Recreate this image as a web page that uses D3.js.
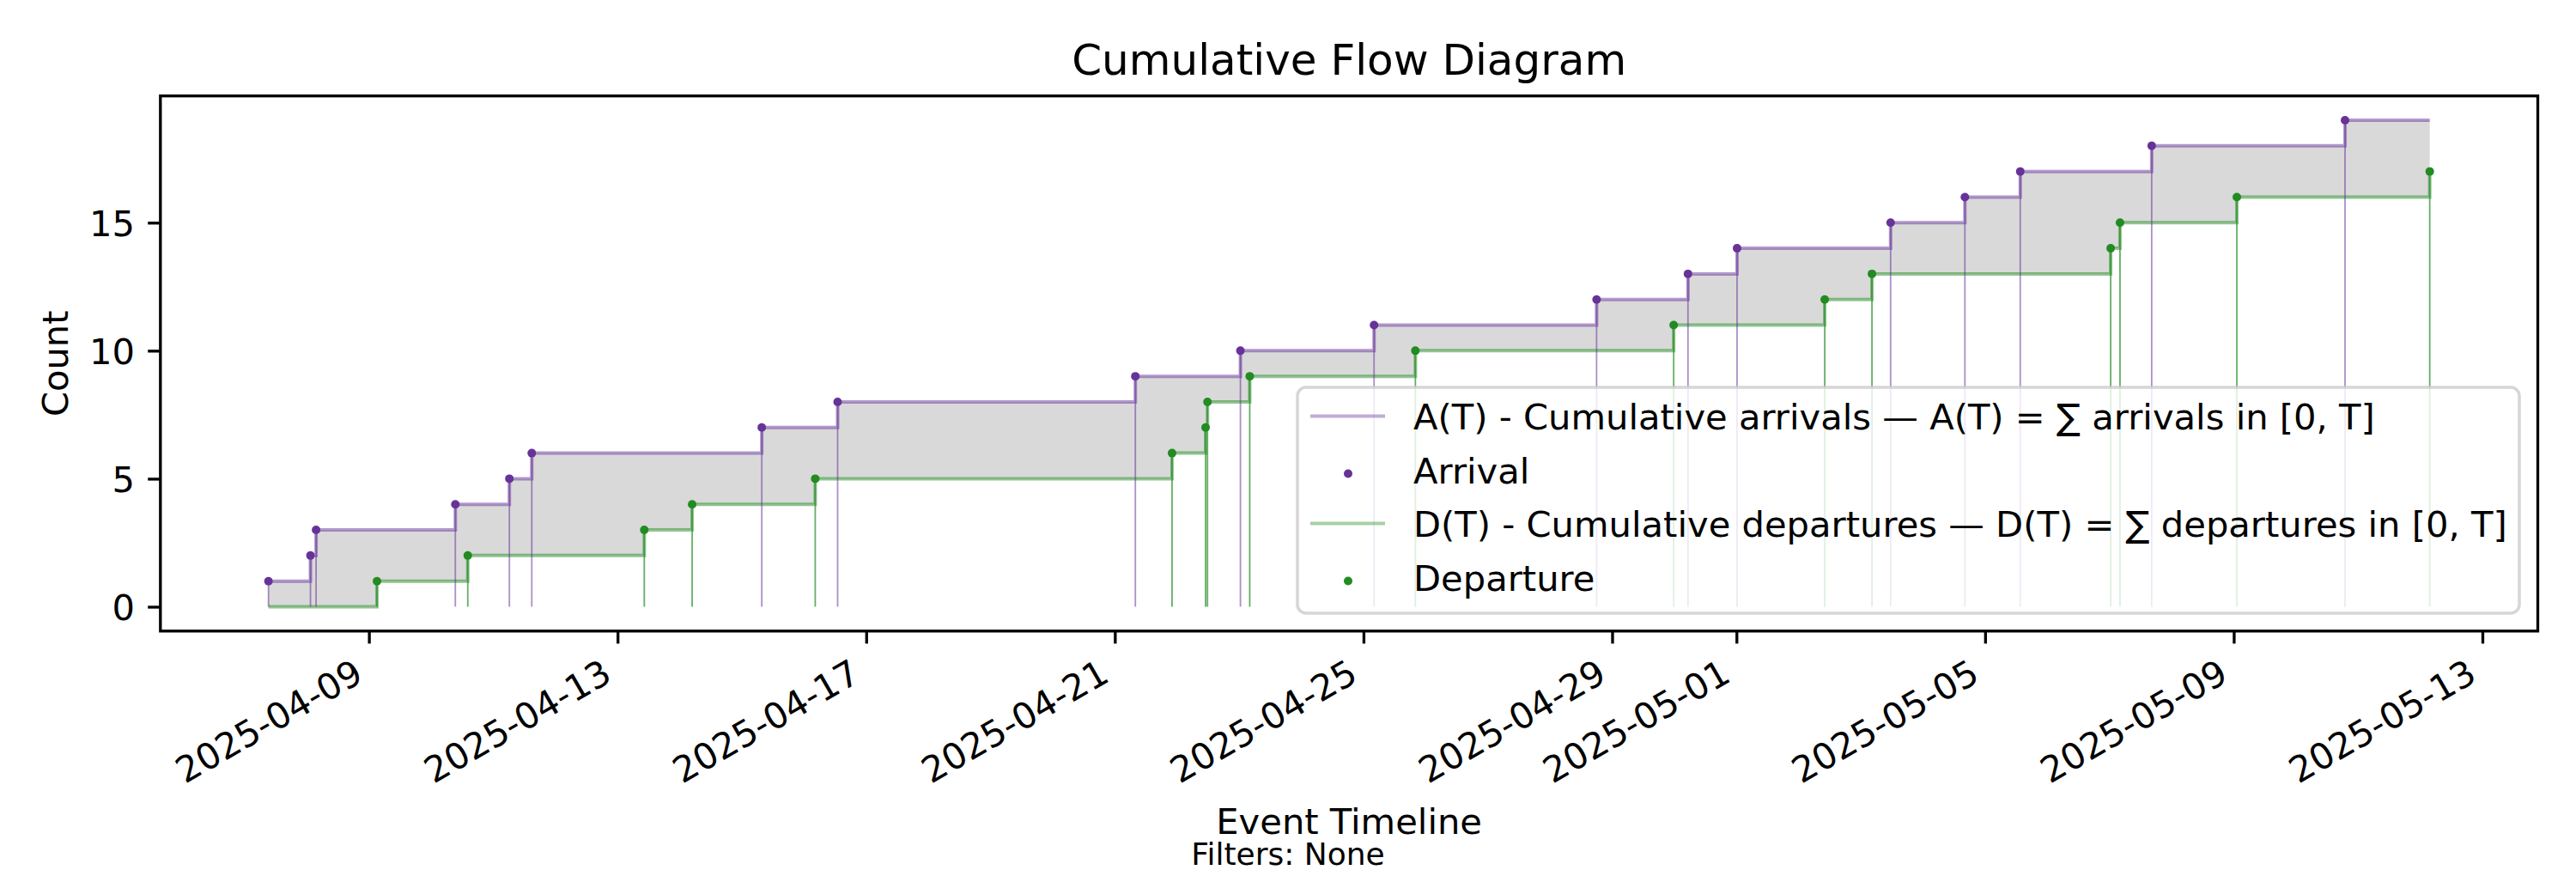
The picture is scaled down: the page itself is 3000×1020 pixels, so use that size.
<!DOCTYPE html>
<html><head><meta charset="utf-8">
<script src="https://cdn.jsdelivr.net/npm/d3@7"></script>
<style>body{margin:0;background:#fff} text{font-family:"DejaVu Sans",sans-serif;fill:#000}</style>
</head><body>
<svg id="chart" width="3000" height="1020" xmlns="http://www.w3.org/2000/svg"></svg>
<script>
// ---------------- data ----------------
const arrivalTimes = [
  "2025-04-07T09:13","2025-04-08T01:26","2025-04-08T03:36","2025-04-10T09:22",
  "2025-04-11T06:14","2025-04-11T14:53","2025-04-15T07:41","2025-04-16T12:58",
  "2025-04-21T07:55","2025-04-23T00:29","2025-04-25T04:05","2025-04-28T18:00",
  "2025-04-30T05:17","2025-05-01T00:14","2025-05-03T11:31","2025-05-04T16:12",
  "2025-05-05T13:34","2025-05-07T16:19","2025-05-10T18:58"
];
const departureTimes = [
  "2025-04-09T03:07","2025-04-10T14:10","2025-04-13T10:19","2025-04-14T04:48",
  "2025-04-16T04:19","2025-04-21T22:05","2025-04-22T11:02","2025-04-22T11:46",
  "2025-04-23T04:05","2025-04-25T20:02","2025-04-29T23:46","2025-05-02T10:05",
  "2025-05-03T04:19","2025-05-07T00:29","2025-05-07T04:05","2025-05-09T01:12",
  "2025-05-12T03:40"
];
const xTickDates = ["2025-04-09","2025-04-13","2025-04-17","2025-04-21","2025-04-25",
  "2025-04-29","2025-05-01","2025-05-05","2025-05-09","2025-05-13"];
const yTickValues = [0, 5, 10, 15];
const titleText = "Cumulative Flow Diagram";
const xLabelText = "Event Timeline";
const yLabelText = "Count";
const footnoteText = "Filters: None";
const legendLabels = [
  "A(T) - Cumulative arrivals \u2014 A(T) = \u2211 arrivals in [0, T]",
  "Arrival",
  "D(T) - Cumulative departures \u2014 D(T) = \u2211 departures in [0, T]",
  "Departure"
];

// ---------------- derived ----------------
const parse = d3.utcParse("%Y-%m-%dT%H:%M");
const parseDay = d3.utcParse("%Y-%m-%d");
const arr = arrivalTimes.map(parse).sort((a,b)=>a-b);
const dep = departureTimes.map(parse).sort((a,b)=>a-b);
const all = arr.concat(dep);
const times = Array.from(new Set(all.map(d=>+d))).sort((a,b)=>a-b).map(t=>new Date(t));
const cum = times.map(t => ({t, a: arr.filter(d=>d<=t).length, d: dep.filter(d=>d<=t).length}));
const arrPts = arr.map((t,i)=>({t, v:i+1}));
const depPts = dep.map((t,i)=>({t, v:i+1}));

const PURPLE = "#663399", GREEN = "#228B22";
const FS = 41.67;
const M = {left:186.8, right:2955.5, top:111.7, bottom:734.8};

const t0 = d3.min(all), t1 = d3.max(all), span = t1 - t0;
const x = d3.scaleUtc()
  .domain([new Date(+t0 - 0.05*span), new Date(+t1 + 0.05*span)])
  .range([M.left, M.right]);
const yMax = d3.max(cum, d=>d.a);
const y = d3.scaleLinear().domain([-0.05*yMax, 1.05*yMax]).range([M.bottom, M.top]);

const svg = d3.select("#chart");
svg.append("rect").attr("width",3000).attr("height",1020).attr("fill","#fff");

// fill between
svg.append("path").datum(cum)
  .attr("d", d3.area().curve(d3.curveStepAfter).x(d=>x(d.t)).y0(d=>y(d.d)).y1(d=>y(d.a)))
  .attr("fill","#808080").attr("fill-opacity",0.3).attr("stroke","none");

// step lines
const stepA = d3.line().curve(d3.curveStepAfter).x(d=>x(d.t)).y(d=>y(d.a));
const stepD = d3.line().curve(d3.curveStepAfter).x(d=>x(d.t)).y(d=>y(d.d));
svg.append("path").datum(cum).attr("d",stepA).attr("fill","none")
  .attr("stroke",PURPLE).attr("stroke-opacity",0.5).attr("stroke-width",4);
svg.append("path").datum(cum).attr("d",stepD).attr("fill","none")
  .attr("stroke",GREEN).attr("stroke-opacity",0.5).attr("stroke-width",4);

// drop lines
svg.append("g").selectAll("line").data(arrPts).join("line")
  .attr("x1",d=>x(d.t)).attr("x2",d=>x(d.t)).attr("y1",y(0)).attr("y2",d=>y(d.v))
  .attr("stroke",PURPLE).attr("stroke-opacity",0.55).attr("stroke-width",1.8);
svg.append("g").selectAll("line").data(depPts).join("line")
  .attr("x1",d=>x(d.t)).attr("x2",d=>x(d.t)).attr("y1",y(0)).attr("y2",d=>y(d.v))
  .attr("stroke",GREEN).attr("stroke-opacity",0.7).attr("stroke-width",1.8);

// markers
svg.append("g").selectAll("circle").data(arrPts).join("circle")
  .attr("cx",d=>x(d.t)).attr("cy",d=>y(d.v)).attr("r",5).attr("fill",PURPLE);
svg.append("g").selectAll("circle").data(depPts).join("circle")
  .attr("cx",d=>x(d.t)).attr("cy",d=>y(d.v)).attr("r",5).attr("fill",GREEN);

// axes
const xAxis = svg.append("g").attr("transform",`translate(0,${M.bottom})`)
  .call(d3.axisBottom(x).tickValues(xTickDates.map(parseDay))
    .tickFormat(d3.utcFormat("%Y-%m-%d")).tickSizeInner(14.6).tickSizeOuter(0));
xAxis.select(".domain").remove();
xAxis.selectAll(".tick line").attr("stroke","#000").attr("stroke-width",3.33);
xAxis.selectAll(".tick text").attr("x",null).attr("y",null).attr("dy",null)
  .attr("transform","translate(-5,57.2) rotate(-30)")
  .style("text-anchor","end").style("font-size",FS+"px").attr("fill","#000");

const yAxis = svg.append("g").attr("transform",`translate(${M.left},0)`)
  .call(d3.axisLeft(y).tickValues(yTickValues).tickFormat(d3.format("d"))
    .tickSizeInner(14.6).tickSizeOuter(0));
yAxis.select(".domain").remove();
yAxis.selectAll(".tick line").attr("stroke","#000").attr("stroke-width",3.33);
yAxis.selectAll(".tick text").attr("x",-29.8).attr("dy","15.2px")
  .style("text-anchor","end").style("font-size",FS+"px").attr("fill","#000");

// frame
svg.append("rect").attr("x",M.left).attr("y",M.top)
  .attr("width",M.right-M.left).attr("height",M.bottom-M.top)
  .attr("fill","none").attr("stroke","#000").attr("stroke-width",3.33);

// titles
const cx = (M.left+M.right)/2;
svg.append("text").attr("x",cx).attr("y",87).attr("text-anchor","middle")
  .style("font-size","50px").text(titleText);
svg.append("text").attr("x",cx).attr("y",971).attr("text-anchor","middle")
  .style("font-size",FS+"px").text(xLabelText);
svg.append("text").attr("transform",`translate(79,${(M.top+M.bottom)/2}) rotate(-90)`)
  .attr("text-anchor","middle").style("font-size",FS+"px").text(yLabelText);
svg.append("text").attr("x",1500).attr("y",1007).attr("text-anchor","middle")
  .style("font-size","36px").text(footnoteText);

// legend
const L = {x0:1511, x1:2934, y0:451, y1:714};
const lg = svg.append("g");
lg.append("rect").attr("x",L.x0).attr("y",L.y0).attr("width",L.x1-L.x0).attr("height",L.y1-L.y0)
  .attr("rx",10).attr("ry",10).attr("fill","#fff").attr("fill-opacity",0.8)
  .attr("stroke","#cccccc").attr("stroke-opacity",0.8).attr("stroke-width",3.5);
const rows = [
  {label:legendLabels[0], kind:"line", color:PURPLE, base:500},
  {label:legendLabels[1], kind:"dot",  color:PURPLE, base:563},
  {label:legendLabels[2], kind:"line", color:GREEN,  base:625},
  {label:legendLabels[3], kind:"dot",  color:GREEN,  base:688}
];
rows.forEach(r=>{
  if (r.kind==="line") {
    lg.append("line").attr("x1",1526).attr("x2",1613).attr("y1",r.base-15.5).attr("y2",r.base-15.5)
      .attr("stroke",r.color).attr("stroke-opacity",0.4).attr("stroke-width",4);
  } else {
    lg.append("circle").attr("cx",1570).attr("cy",r.base-11.5).attr("r",5).attr("fill",r.color);
  }
  lg.append("text").attr("x",1646).attr("y",r.base).style("font-size",FS+"px").text(r.label);
});
</script>
</body></html>
